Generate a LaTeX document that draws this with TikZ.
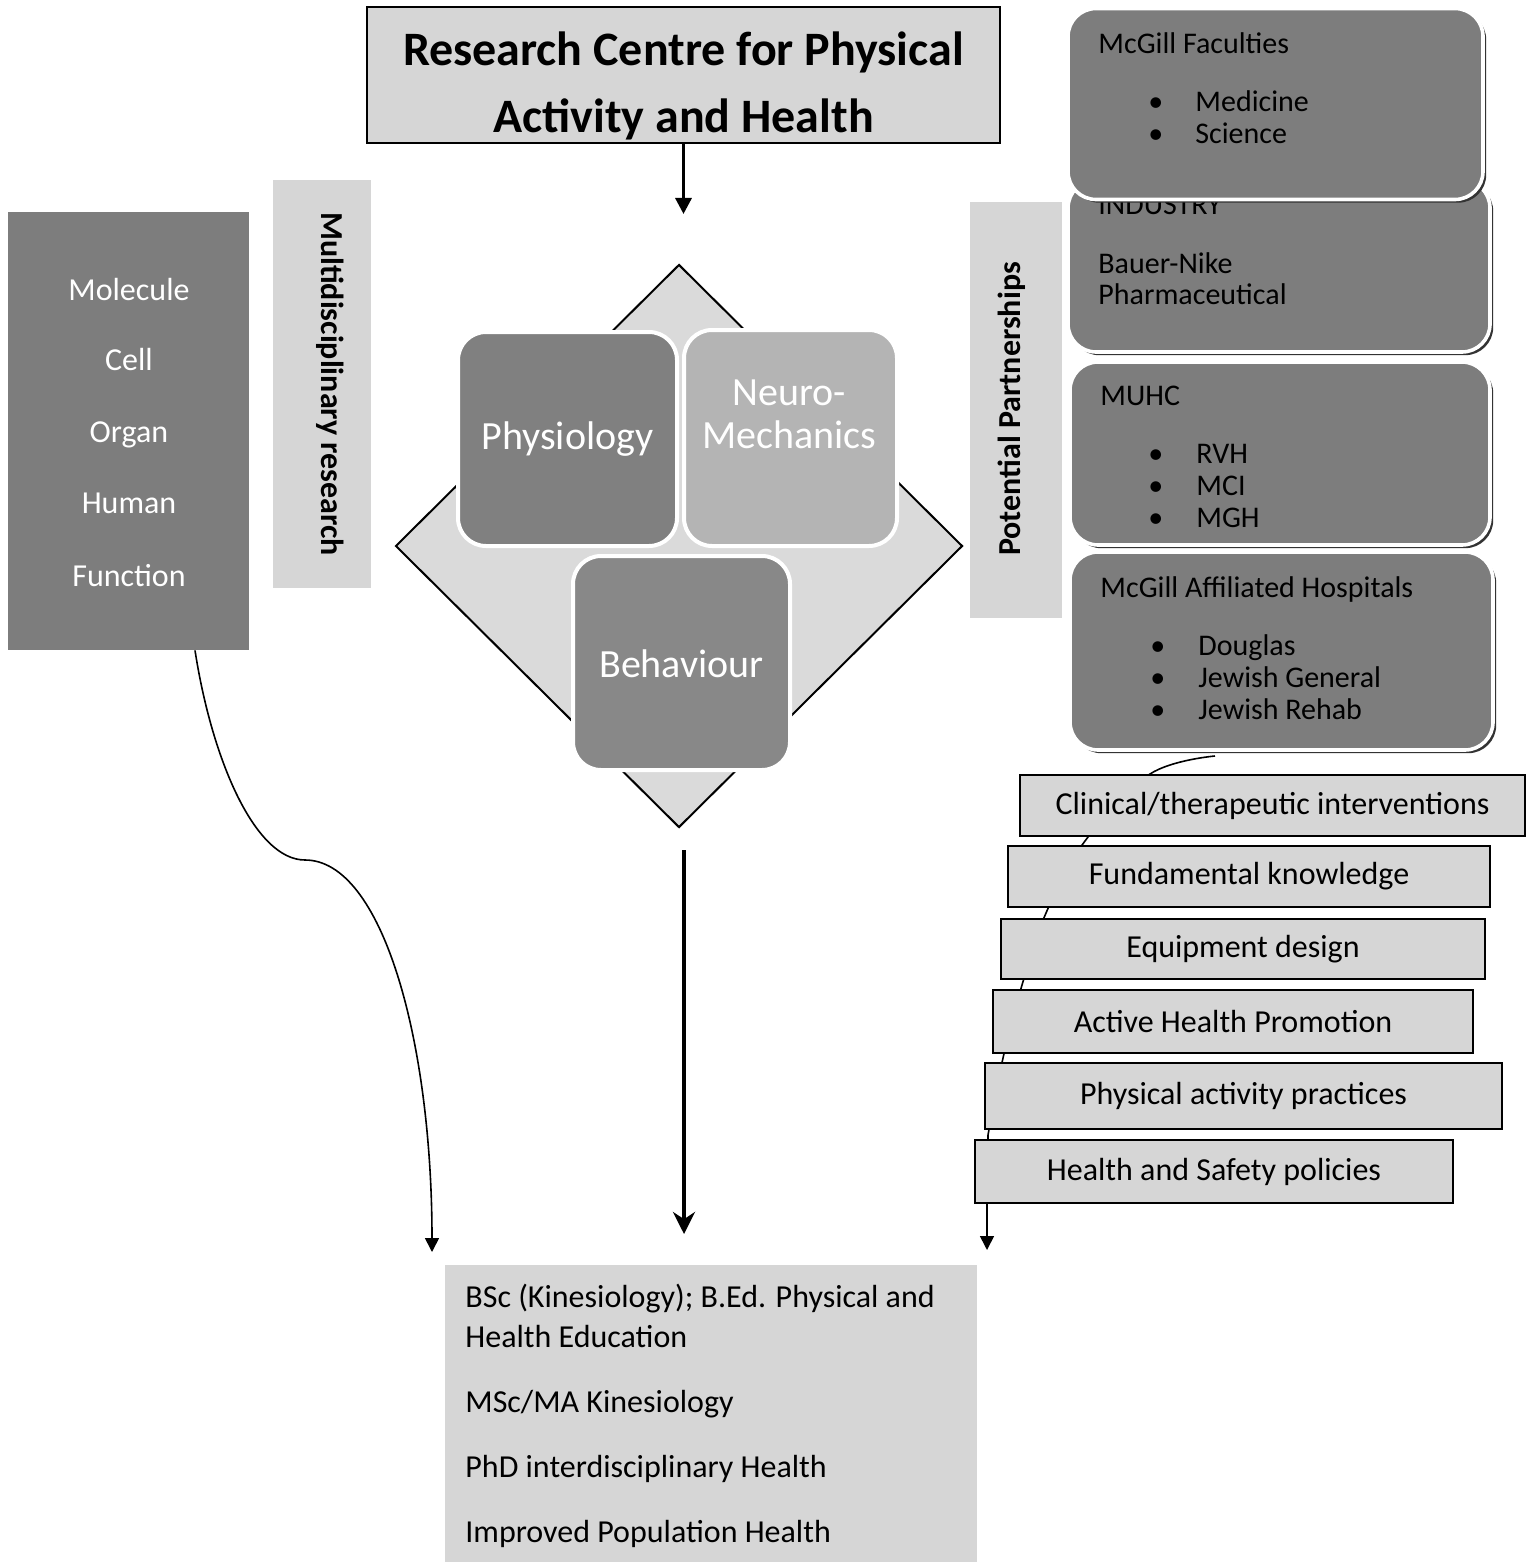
\documentclass[tikz,border=0pt]{standalone}
\usepackage{fontspec}
\setmainfont{Carlito}
\usetikzlibrary{arrows.meta,shadows,shapes.geometric}
\definecolor{dk}{HTML}{7D7D7D}
\definecolor{lt}{HTML}{D6D6D6}
\definecolor{nm}{HTML}{B4B4B4}
\definecolor{dia}{HTML}{DADADA}
\definecolor{phys}{HTML}{808080}
\definecolor{beh}{HTML}{888888}
\tikzset{
  sq/.style={draw=black, line width=1pt, fill=lt, inner sep=0pt},
  band/.style={fill=lt, inner sep=0pt},
  core/.style={draw=white, line width=2pt, rounded corners=14pt, inner sep=0pt},
  coretext/.style={text=white, font=\fontsize{20}{21.5}\selectfont, align=center, inner sep=0pt},
  partner/.style={draw=white, line width=1.8pt, fill=dk, rounded corners=14pt, inner sep=0pt,
    drop shadow={shadow xshift=1.6pt, shadow yshift=-1.6pt, fill=black!80, opacity=1}},
  ptext/.style={anchor=base west, inner sep=0pt, font=\fontsize{15}{18}\selectfont, text=black},
  ltext/.style={anchor=base, inner sep=0pt, font=\fontsize{16}{19}\selectfont, text=white},
  otext/.style={anchor=base west, inner sep=0pt, font=\fontsize{16}{19}\selectfont, text=black},
  listbox/.style={sq, font=\fontsize{16}{19}\selectfont},
  thinarrow/.style={line width=0.8pt, -{Triangle[length=7pt,width=7pt]}},
  bigarrow/.style={line width=1.6pt, -{Triangle[length=8pt,width=8pt]}},
}
\begin{document}
\begin{tikzpicture}[x=0.5pt,y=-0.5pt]
\useasboundingbox[fill=white] (0,0) rectangle (1536,1562);

% title
\node[sq, minimum width=316.5pt, minimum height=68pt] (title) at (683.5,75) {};
\node[inner sep=0pt, font=\bfseries\fontsize{24}{33.5}\selectfont, align=center] (titlet) at (683.5,86) {Research Centre for Physical\\Activity and Health};
\coordinate (ttip) at (683.5,214);
\draw[bigarrow] (title.south) -- (ttip);

% left column
\node[fill=dk, minimum width=120.5pt, minimum height=219pt, inner sep=0pt] (left) at (128.5,431) {};
\node[ltext] (mol) at (129,300) {Molecule};
\node[ltext] (cell) at (129,370) {Cell};
\node[ltext] (org) at (129,442) {Organ};
\node[ltext] (hum) at (129,513) {Human};
\node[ltext] (fun) at (129,586) {Function};

\node[band, minimum width=49pt, minimum height=204pt] (multi) at (322,384) {};
\node[rotate=-90, inner sep=0pt, font=\bfseries\fontsize{16}{19}\selectfont] (multit) at (330,384) {Multidisciplinary research};

% diamond and core areas
\node[diamond, draw=black, line width=1pt, fill=dia, minimum width=283.5pt, minimum height=281.5pt, inner sep=0pt] (dmd) at (679,546) {};
\node[core, fill=phys, minimum width=109.5pt, minimum height=107pt] (phys) at (567.5,439) {};
\node[coretext] (physt) at (567.5,439) {Physiology};
\node[core, fill=nm, minimum width=106.5pt, minimum height=108pt] (neuro) at (790.5,438) {};
\node[coretext] (neurot) at (789,414) {Neuro-\\Mechanics};
\node[core, fill=beh, minimum width=108.5pt, minimum height=107pt] (beh) at (681.5,663) {};
\node[coretext] (beht) at (681.5,664) {Behaviour};

\coordinate (mtop) at (684,850);
\coordinate (mbot) at (684,1234);
\draw[line width=2.4pt, -{Stealth[length=11pt,width=11pt]}] (mtop) -- (mbot);

% outcome box
\node[band, minimum width=266pt, minimum height=148.5pt] (out) at (711,1413.5) {};
\node[otext] (o1) at (465,1307) {BSc (Kinesiology); B.Ed. Physical and};
\node[otext] (o2) at (465,1347) {Health Education};
\node[otext] (o3) at (465,1412) {MSc/MA Kinesiology};
\node[otext] (o4) at (465,1477) {PhD interdisciplinary Health};
\node[otext] (o5) at (465,1542) {Improved Population Health};

% left curve
\coordinate (lend) at (432,1252);
\draw[thinarrow] ([xshift=33.25pt]left.south) .. controls (212,760) and (255,860) .. (305,860) .. controls (382,860) and (432,1040) .. (lend);

% potential partnerships band
\node[band, minimum width=46pt, minimum height=208pt] (pot) at (1016,410) {};
\node[rotate=90, inner sep=0pt, font=\bfseries\fontsize{16}{19}\selectfont] (pott) at (1012,409) {Potential Partnerships};

% right curve (behind boxes)
\coordinate (rstart) at (1215,756);
\coordinate (rend) at (987,1250);
\draw[thinarrow] plot[smooth, tension=0.6] coordinates {(rstart) (1150,774) (1085,841) (1046,913) (1022,985) (1003,1058) (988,1135)} -- (987,1205) -- (rend);

% partner boxes
\node[partner, minimum width=211pt, minimum height=86pt] (p2) at (1279,266) {};
\node[ptext] (p2h) at (1098,214) {INDUSTRY};
\node[ptext] (p2a) at (1098,273) {Bauer-Nike};
\node[ptext] (p2b) at (1098,304) {Pharmaceutical};

\node[partner, minimum width=207.5pt, minimum height=95.5pt] (p1) at (1275.5,104) {};
\node[ptext] (p1h) at (1098,54) {McGill Faculties};
\node[ptext] (p1b1) at (1148,112) {\textbullet};
\node[ptext] (p1a) at (1195,112) {Medicine};
\node[ptext] (p1b2) at (1148,144) {\textbullet};
\node[ptext] (p1b) at (1195,144) {Science};

\node[partner, minimum width=210pt, minimum height=91.5pt] (p3) at (1280,453.5) {};
\node[ptext] (p3h) at (1100,405) {MUHC};
\node[ptext] (p3b1) at (1148,463) {\textbullet};
\node[ptext] (p3a) at (1196,463) {RVH};
\node[ptext] (p3b2) at (1148,495) {\textbullet};
\node[ptext] (p3b) at (1196,495) {MCI};
\node[ptext] (p3b3) at (1148,527) {\textbullet};
\node[ptext] (p3c) at (1196,527) {MGH};

\node[partner, minimum width=211.5pt, minimum height=99pt] (p4) at (1281.5,651) {};
\node[ptext] (p4h) at (1100,597) {McGill Affiliated Hospitals};
\node[ptext] (p4b1) at (1150,655) {\textbullet};
\node[ptext] (p4a) at (1198,655) {Douglas};
\node[ptext] (p4b2) at (1150,687) {\textbullet};
\node[ptext] (p4b) at (1198,687) {Jewish General};
\node[ptext] (p4b3) at (1150,719) {\textbullet};
\node[ptext] (p4c) at (1198,719) {Jewish Rehab};

% list boxes
\node[listbox, minimum width=252.5pt, minimum height=30.5pt] (l1) at (1272.5,805.5) {Clinical/therapeutic interventions};
\node[listbox, minimum width=241pt, minimum height=30.5pt] (l2) at (1249,876.5) {Fundamental knowledge};
\node[listbox, minimum width=242pt, minimum height=30pt] (l3) at (1243,949) {Equipment design};
\node[listbox, minimum width=240pt, minimum height=31.5pt] (l4) at (1233,1021.5) {Active Health Promotion};
\node[listbox, minimum width=258.5pt, minimum height=33pt] (l5) at (1243.5,1096) {Physical activity practices};
\node[listbox, minimum width=239pt, minimum height=31.5pt] (l6) at (1214,1171.5) {Health and Safety policies};
\end{tikzpicture}
\end{document}
